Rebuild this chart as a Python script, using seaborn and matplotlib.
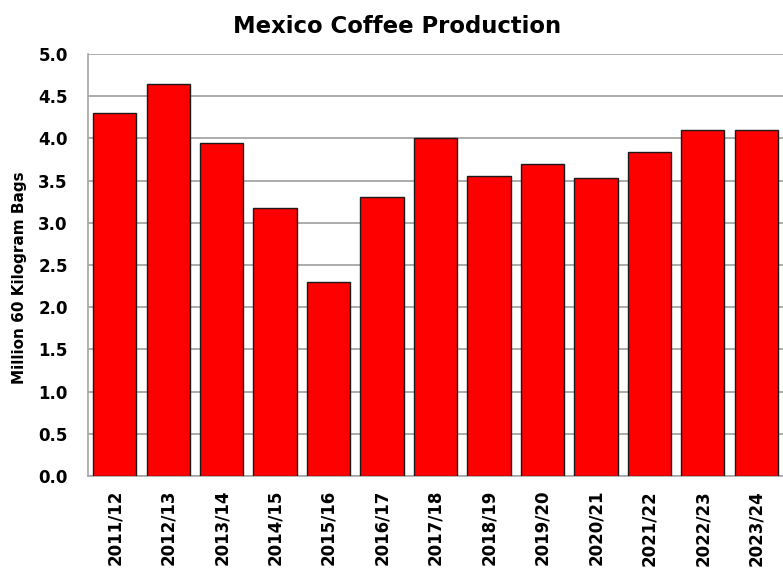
import matplotlib
matplotlib.use("Agg")
import matplotlib.pyplot as plt
import seaborn as sns
import pandas as pd
import numpy as np
from matplotlib.ticker import FixedLocator, MultipleLocator

years = ["2011/12", "2012/13", "2013/14", "2014/15", "2015/16", "2016/17", "2017/18",
         "2018/19", "2019/20", "2020/21", "2021/22", "2022/23", "2023/24"]
production = [4.30, 4.65, 3.95, 3.18, 2.30, 3.30, 4.00, 3.55, 3.70, 3.53, 3.84, 4.10, 4.10]

df = pd.DataFrame({"year": years, "production": production})

sns.set_style("white")
plt.rcParams['font.family'] = ['DejaVu Sans']
plt.rcParams['text.color'] = 'black'
plt.rcParams['axes.labelcolor'] = 'black'
plt.rcParams['xtick.labelcolor'] = 'black'
plt.rcParams['ytick.labelcolor'] = 'black'

fig = plt.figure(figsize=(7.83, 5.70), dpi=100)
ax = fig.add_axes([0.1124, 0.1649, 0.8876, 0.7404])

sns.barplot(data=df, x="year", y="production", color="#FF0000", saturation=1,
            edgecolor="#1a1a1a", linewidth=1.0, width=0.81, ax=ax, zorder=3)

ax.set_xlim(-0.5, len(years) - 0.5)
ax.set_ylim(0, 5.0)
ax.yaxis.set_major_locator(MultipleLocator(0.5))
ax.set_yticklabels([f"{v:.1f}" for v in ax.get_yticks()], fontsize=12, fontweight="bold")
ax.yaxis.grid(True, color="#A6A6A6", linewidth=1.3, zorder=0)
ax.set_axisbelow(True)

ax.set_xticks(range(len(years)))
ax.set_xticklabels(years, rotation=90, fontsize=12, fontweight="bold")
ax.xaxis.set_minor_locator(FixedLocator(np.arange(-0.5, len(years), 1.0)))
ax.tick_params(axis="x", which="major", length=0, pad=10)
ax.tick_params(axis="x", which="minor", length=4.5, color="#A6A6A6", width=1.2, direction="out")
ax.tick_params(axis="y", which="major", length=4.5, color="#A6A6A6", width=1.2, direction="out", pad=10)

for s in ["top", "right"]:
    ax.spines[s].set_visible(False)
for s in ["left", "bottom"]:
    ax.spines[s].set_color("#A6A6A6")
    ax.spines[s].set_linewidth(1.2)

ax.set_xlabel("")
ax.set_ylabel("Million 60 Kilogram Bags", fontsize=11, fontweight="bold", color="black")
ax.yaxis.set_label_coords((27 - 88) / (783 * 0.8876), 0.47)
fig.text(0.507, 1 - 33 / 570, "Mexico Coffee Production", fontsize=16.4, fontweight="bold",
         ha="center", va="baseline", color="black")

fig.savefig("out.png", dpi=100)
